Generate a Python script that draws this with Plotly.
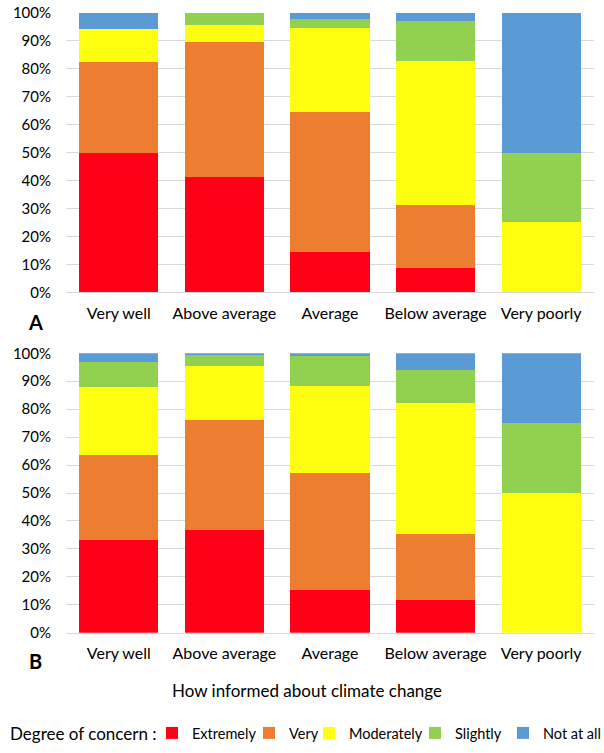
import plotly.graph_objects as go
from plotly.subplots import make_subplots

categories = ["Very well", "Above average", "Average", "Below average", "Very poorly"]
levels = ["Extremely", "Very", "Moderately", "Slightly", "Not at all"]
colors = ["#FF0016", "#ED7D31", "#FFFF0F", "#92D050", "#5B9BD5"]

# Panel A values (%)
a_extremely = [50.0, 41.3, 14.3, 8.6, 0]
a_very = [32.4, 48.2, 50.1, 22.8, 0]
a_moderately = [11.8, 6.0, 30.1, 51.4, 25]
a_slightly = [0, 4.5, 3.4, 14.3, 25]
a_not_at_all = [5.8, 0, 2.1, 2.9, 50]

# Panel B values (%)
b_extremely = [33.3, 36.8, 15.2, 11.7, 0]
b_very = [30.3, 39.2, 41.8, 23.6, 0]
b_moderately = [24.3, 19.3, 31.4, 47.0, 50]
b_slightly = [9.1, 4.0, 10.6, 11.9, 25]
b_not_at_all = [3.0, 0.7, 1.0, 5.8, 25]

panel_a = [a_extremely, a_very, a_moderately, a_slightly, a_not_at_all]
panel_b = [b_extremely, b_very, b_moderately, b_slightly, b_not_at_all]

legend_widths = [52, 15, 61, 43, 75]

FONT = "Lato"
W, H = 604, 753
L = 66
R = W - 594
T, B = 0, 40
PW, PH = W - L - R, H - T - B

fig = make_subplots(rows=2, cols=1)

for i, (name, col) in enumerate(zip(levels, colors)):
    fig.add_trace(go.Bar(x=categories, y=panel_a[i], name=name, marker_color=col,
                         marker_line_width=0, legendgroup=name, showlegend=True,
                         legendwidth=legend_widths[i]), row=1, col=1)
    fig.add_trace(go.Bar(x=categories, y=panel_b[i], name=name, marker_color=col,
                         marker_line_width=0, legendgroup=name, showlegend=False),
                  row=2, col=1)

def py(px):
    return 1 - (px - T) / PH

def pxx(px):
    return (px - L) / PW

yax = dict(range=[0, 100], dtick=10, ticksuffix="%", showgrid=True, gridcolor="#D9D9D9",
           gridwidth=1, zeroline=False, showline=False, ticks="", ticklabelstandoff=14,
           tickfont=dict(family=FONT, size=15, color="#000000"), fixedrange=True,
           automargin=False)
xax = dict(showline=True, linecolor="#D9D9D9", linewidth=1, ticks="", showgrid=False,
           ticklabelstandoff=6, tickfont=dict(family=FONT, size=16, color="#000000"),
           fixedrange=True, automargin=False)

def label(text, x, y, size, xanchor="center"):
    return dict(text=text, x=pxx(x), y=py(y), xref="paper", yref="paper",
                xanchor=xanchor, yanchor="middle", showarrow=False,
                font=dict(family=FONT, size=size, color="#000000"))

fig.update_layout(
    width=W, height=H,
    margin=dict(l=L, r=R, t=T, b=B, autoexpand=False),
    barmode="stack", bargap=0.25,
    plot_bgcolor="white", paper_bgcolor="white",
    font=dict(family=FONT, color="#000000"),
    xaxis=dict(**xax, domain=[0, 1]),
    xaxis2=dict(**xax, domain=[0, 1]),
    yaxis=dict(**yax, domain=[py(292.3), py(12.7)]),
    yaxis2=dict(**yax, domain=[py(632.7), py(353.3)]),
    legend=dict(orientation="h", x=pxx(152), xanchor="left", y=py(733), yanchor="middle",
                traceorder="normal", borderwidth=0, bgcolor="rgba(0,0,0,0)",
                font=dict(family=FONT, size=14.5, color="#000000")),
    annotations=[
        label("Degree of concern :", 8, 733, 17, xanchor="left"),
        label("<b>A</b>", 35, 322, 20),
        label("<b>B</b>", 35, 660.7, 20),
        label("How informed about climate change", 307, 690, 17),
    ],
)

fig.write_html("out.html", config={"displayModeBar": False},
               post_script="document.body.style.margin='0px';")
